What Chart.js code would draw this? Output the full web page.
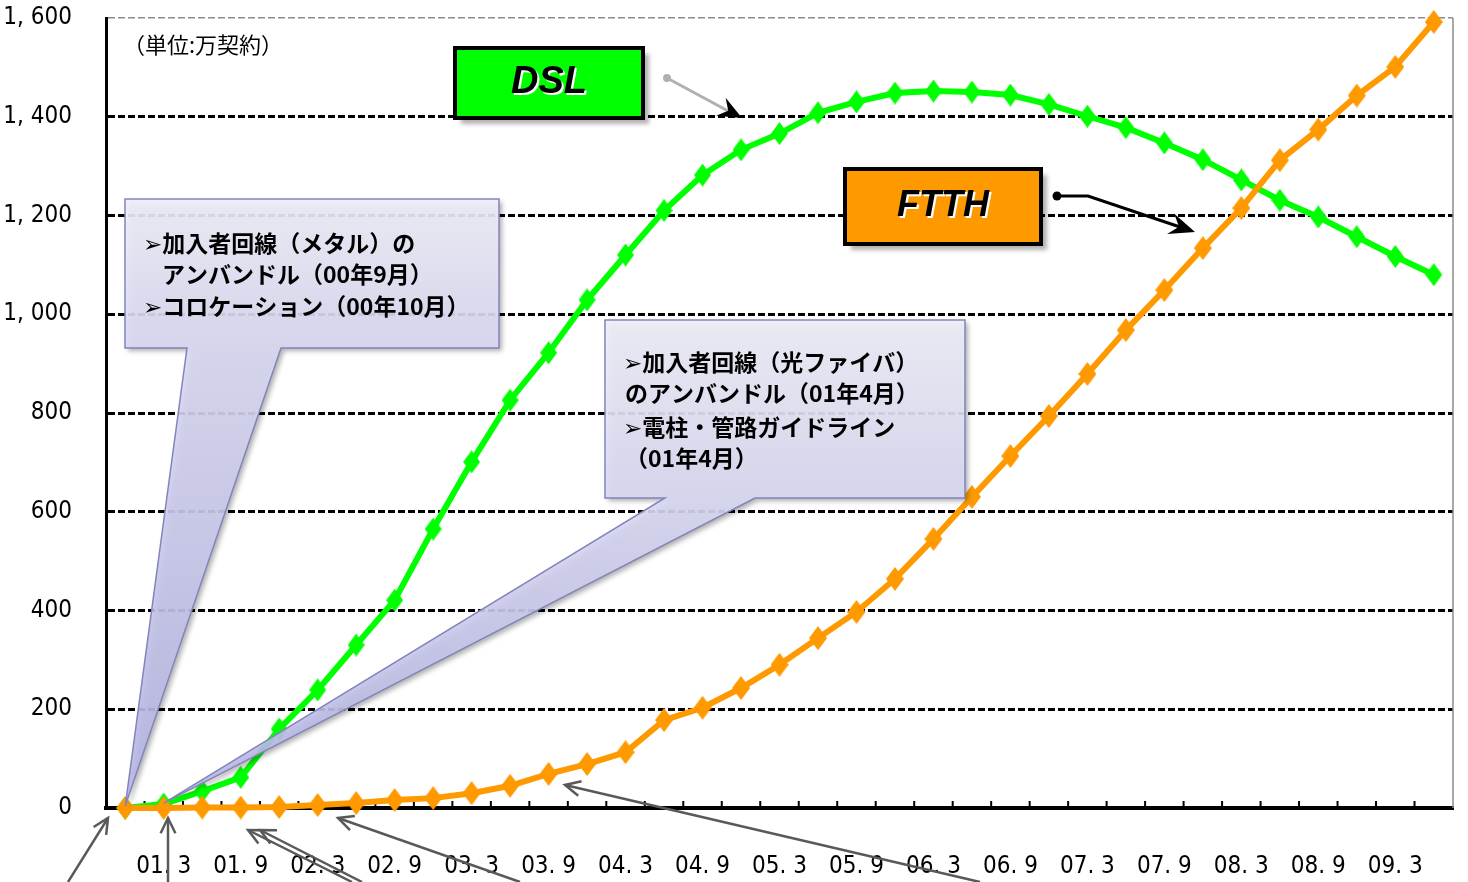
<!DOCTYPE html>
<html lang="ja">
<head>
<meta charset="utf-8">
<title>DSL・FTTH契約数の推移</title>
<script src="https://cdn.jsdelivr.net/npm/chart.js@4.4.1/dist/chart.umd.min.js"></script>
<style>
  html, body { margin: 0; padding: 0; background: #fff; overflow: hidden; }
  #wrap { position: relative; width: 1468px; height: 882px; }
</style>
</head>
<body>
<div id="wrap"><canvas id="myLineChart"></canvas></div>
<script>
// quarterly, 00.12 .. 09.6
const quarters = [
  '00.12', '01.3', '01.6', '01.9', '01.12', '02.3', '02.6', '02.9', '02.12',
  '03.3', '03.6', '03.9', '03.12', '04.3', '04.6', '04.9', '04.12',
  '05.3', '05.6', '05.9', '05.12', '06.3', '06.6', '06.9', '06.12',
  '07.3', '07.6', '07.9', '07.12', '08.3', '08.6', '08.9', '08.12', '09.3', '09.6'
];
// 万契約
const dslValues = [
  0, 8, 34, 62, 160, 239, 330, 421, 565, 701, 826, 922, 1029, 1120, 1210, 1282, 1333,
  1366, 1408, 1430, 1448, 1452, 1450, 1444, 1425, 1401, 1378, 1347, 1313, 1272,
  1231, 1197, 1157, 1117, 1080
];
const ftthValues = [
  0, 0, 1, 1, 2, 6, 10, 16, 20, 30, 45, 69, 89, 113, 178, 203, 243,
  290, 344, 397, 464, 545, 630, 713, 794, 879, 968, 1049, 1134, 1215,
  1312, 1374, 1443, 1501, 1592
];
const yTicks = [0, 200, 400, 600, 800, 1000, 1200, 1400, 1600];

const tickFont = { family: '"Liberation Sans Narrow", "DejaVu Sans Condensed", sans-serif', size: 24 };
const jpFont = '"Noto Sans CJK JP", "DejaVu Sans", sans-serif';

// tall diamond markers
function diamond(color, w, h) {
  const c = document.createElement('canvas');
  c.width = w; c.height = h;
  const g = c.getContext('2d');
  g.fillStyle = color;
  g.beginPath();
  g.moveTo(w / 2, 0); g.lineTo(w, h / 2); g.lineTo(w / 2, h); g.lineTo(0, h / 2);
  g.closePath();
  g.fill();
  return c;
}

function arrowHead(ctx, from, to, len, spread, filled) {
  const a = Math.atan2(to.y - from.y, to.x - from.x);
  const p1 = { x: to.x - len * Math.cos(a - spread), y: to.y - len * Math.sin(a - spread) };
  const p2 = { x: to.x - len * Math.cos(a + spread), y: to.y - len * Math.sin(a + spread) };
  ctx.beginPath();
  if (filled) {
    const back = { x: to.x - len * 0.6 * Math.cos(a), y: to.y - len * 0.6 * Math.sin(a) };
    ctx.moveTo(to.x, to.y); ctx.lineTo(p1.x, p1.y); ctx.lineTo(back.x, back.y); ctx.lineTo(p2.x, p2.y);
    ctx.closePath();
    ctx.fill();
  } else {
    ctx.moveTo(p1.x, p1.y); ctx.lineTo(to.x, to.y); ctx.lineTo(p2.x, p2.y);
    ctx.stroke();
  }
}

function callout(ctx, box, t1, t2, tip, lines) {
  ctx.save();
  const path = new Path2D();
  path.moveTo(box.x, box.y);
  path.lineTo(box.x + box.w, box.y);
  path.lineTo(box.x + box.w, box.y + box.h);
  path.lineTo(t2, box.y + box.h);
  path.lineTo(tip.x, tip.y);
  path.lineTo(t1, box.y + box.h);
  path.lineTo(box.x, box.y + box.h);
  path.closePath();
  const g = ctx.createLinearGradient(0, box.y, 0, tip.y);
  const k = box.h / (tip.y - box.y);
  g.addColorStop(0, '#f0f0fb');
  g.addColorStop(k, '#d9d9f3');
  g.addColorStop(1, '#b4b4e4');
  ctx.shadowColor = 'rgba(0,0,0,0.35)';
  ctx.shadowBlur = 5;
  ctx.shadowOffsetX = 3;
  ctx.shadowOffsetY = 3;
  ctx.globalAlpha = 0.9;
  ctx.fillStyle = g;
  ctx.fill(path);
  ctx.shadowColor = 'transparent';
  ctx.globalAlpha = 1;
  ctx.strokeStyle = '#8484bc';
  ctx.lineWidth = 1.5;
  ctx.stroke(path);
  ctx.fillStyle = '#000';
  ctx.font = 'bold 23px ' + jpFont;
  ctx.textBaseline = 'middle';
  lines.forEach(l => ctx.fillText(l.t, l.x, l.y));
  ctx.restore();
}

function labelBox(ctx, x, y, w, h, fill, text, size) {
  ctx.save();
  ctx.fillStyle = 'rgba(0,0,0,0.3)';
  ctx.filter = 'blur(2px)';
  ctx.fillRect(x + 6, y + 6, w, h);
  ctx.filter = 'none';
  ctx.fillStyle = fill;
  ctx.fillRect(x, y, w, h);
  ctx.strokeStyle = '#000';
  ctx.lineWidth = 4;
  ctx.strokeRect(x, y, w, h);
  ctx.font = 'italic bold ' + size + 'px "Liberation Sans", Arial, sans-serif';
  ctx.textAlign = 'center';
  ctx.textBaseline = 'middle';
  ctx.fillStyle = '#fff';
  ctx.fillText(text, x + w / 2 + 2, y + h / 2 + 2);
  ctx.fillStyle = '#000';
  ctx.fillText(text, x + w / 2, y + h / 2);
  ctx.restore();
}

const decorations = {
  id: 'decorations',
  beforeDatasetsDraw(chart) {
    const { ctx, chartArea: a, scales: { x } } = chart;
    ctx.save();
    // right frame
    ctx.strokeStyle = '#8c8c8c';
    ctx.lineWidth = 1.5;
    ctx.beginPath();
    ctx.moveTo(a.right, a.top); ctx.lineTo(a.right, a.bottom);
    ctx.stroke();
    // inward tick marks between categories
    ctx.strokeStyle = '#000';
    ctx.lineWidth = 2;
    ctx.beginPath();
    for (let i = 1; i < quarters.length; i++) {
      const px = (x.getPixelForValue(i - 1) + x.getPixelForValue(i)) / 2;
      ctx.moveTo(px, a.bottom); ctx.lineTo(px, a.bottom - 7);
    }
    ctx.stroke();
    ctx.restore();
  },
  afterDatasetsDraw(chart) {
    const { ctx, scales: { x, y } } = chart;
    ctx.save();
    // unit
    ctx.fillStyle = '#000';
    ctx.font = '22px ' + jpFont;
    ctx.textBaseline = 'middle';
    ctx.fillText('（単位:万契約）', 123, 45);

    const tip0 = { x: x.getPixelForValue(0), y: y.getPixelForValue(0) - 2 };
    const tip1 = { x: x.getPixelForValue(1), y: y.getPixelForValue(dslValues[1]) - 1 };
    callout(ctx, { x: 125, y: 199, w: 374, h: 149 }, 187, 281, tip0, [
      { t: '➢加入者回線（メタル）の', x: 143, y: 243 },
      { t: 'アンバンドル（00年9月）', x: 162, y: 274 },
      { t: '➢コロケーション（00年10月）', x: 143, y: 306 }
    ]);
    callout(ctx, { x: 605, y: 320, w: 360, h: 178 }, 665, 755, tip1, [
      { t: '➢加入者回線（光ファイバ）', x: 623, y: 362 },
      { t: 'のアンバンドル（01年4月）', x: 625, y: 393 },
      { t: '➢電柱・管路ガイドライン', x: 623, y: 427 },
      { t: '（01年4月）', x: 625, y: 458 }
    ]);

    // series labels
    labelBox(ctx, 455, 48, 188, 70, '#00ff00', 'DSL', 38);
    labelBox(ctx, 845, 169, 196, 75, '#ff9900', 'FTTH', 36);

    // DSL pointer
    ctx.strokeStyle = '#b0b0b0';
    ctx.fillStyle = '#b0b0b0';
    ctx.lineWidth = 3;
    ctx.beginPath(); ctx.arc(667, 78, 4, 0, Math.PI * 2); ctx.fill();
    ctx.beginPath(); ctx.moveTo(667, 78); ctx.lineTo(730, 112); ctx.stroke();
    ctx.fillStyle = '#000';
    arrowHead(ctx, { x: 667, y: 78 }, { x: 742, y: 118 }, 26, 0.4, true);

    // FTTH pointer
    ctx.strokeStyle = '#000';
    ctx.lineWidth = 3;
    ctx.beginPath(); ctx.arc(1057, 196, 4.5, 0, Math.PI * 2); ctx.fill();
    ctx.beginPath(); ctx.moveTo(1057, 196); ctx.lineTo(1088, 196); ctx.lineTo(1183, 228); ctx.stroke();
    arrowHead(ctx, { x: 1088, y: 196 }, { x: 1195, y: 232 }, 28, 0.4, true);

    // grey pointers from below the axis
    ctx.strokeStyle = '#595959';
    ctx.lineWidth = 2.5;
    const pointers = [
      [{ x: 68, y: 882 }, { x: 108, y: 818 }],
      [{ x: 168, y: 882 }, { x: 168, y: 818 }],
      [{ x: 352, y: 882 }, { x: 248, y: 830 }],
      [{ x: 362, y: 882 }, { x: 260, y: 830 }],
      [{ x: 520, y: 882 }, { x: 338, y: 818 }],
      [{ x: 980, y: 882 }, { x: 565, y: 785 }]
    ];
    pointers.forEach(([p, q]) => {
      ctx.beginPath(); ctx.moveTo(p.x, p.y); ctx.lineTo(q.x, q.y); ctx.stroke();
      arrowHead(ctx, p, q, 17, 0.45, false);
    });
    ctx.restore();
  }
};

const line = document.getElementById('myLineChart').getContext('2d');
const myLineChart = new Chart(line, {
  type: 'line',
  data: {
    labels: quarters,
    datasets: [
      {
        label: 'FTTH',
        data: ftthValues,
        borderColor: '#ff9900',
        backgroundColor: '#ff9900',
        borderWidth: 6,
        pointStyle: diamond('#ff9900', 18, 24),
        pointRadius: 9,
        tension: 0,
        clip: false
      },
      {
        label: 'DSL',
        data: dslValues,
        borderColor: '#00ff00',
        backgroundColor: '#00ff00',
        borderWidth: 6,
        pointStyle: diamond('#00ff00', 17, 23),
        pointRadius: 9,
        tension: 0,
        clip: false
      }
    ]
  },
  options: {
    responsive: true,
    maintainAspectRatio: false,
    animation: false,
    layout: { padding: { top: 18, right: 10, left: 0, bottom: 0 } },
    plugins: {
      legend: { display: false },
      tooltip: { enabled: false }
    },
    scales: {
      x: {
        offset: true,
        // invisible tick length pushes labels down without adding side padding
        grid: { display: false, drawTicks: true, tickLength: 42, offset: true },
        border: { display: true, color: '#000', width: 4 },
        ticks: {
          autoSkip: false,
          maxRotation: 0,
          padding: 2,
          color: '#000',
          font: tickFont,
          callback: function (v, i) {
            return i % 2 === 1 ? this.getLabelForValue(v).replace('.', '. ') : '';
          }
        },
        afterFit: s => { s.height = 74; }
      },
      y: {
        min: 0,
        max: 1600,
        afterBuildTicks: s => { s.ticks = yTicks.map(v => ({ value: v })); },
        grid: {
          drawTicks: true,
          tickLength: 32,
          tickColor: 'rgba(0,0,0,0)',
          color: c => (c.tick && c.tick.value === 1600 ? '#8c8c8c' : '#000'),
          lineWidth: c => (c.tick && c.tick.value === 1600 ? 1.5 : 3)
        },
        border: { display: true, color: '#000', width: 3, dash: [7, 3] },
        ticks: {
          padding: 2,
          color: '#000',
          font: tickFont,
          callback: v => (v >= 1000 ? Math.floor(v / 1000) + ', ' + String(v % 1000).padStart(3, '0') : String(v))
        },
        afterFit: s => { s.width = 106; }
      }
    }
  },
  plugins: [decorations]
});
</script>
</body>
</html>
